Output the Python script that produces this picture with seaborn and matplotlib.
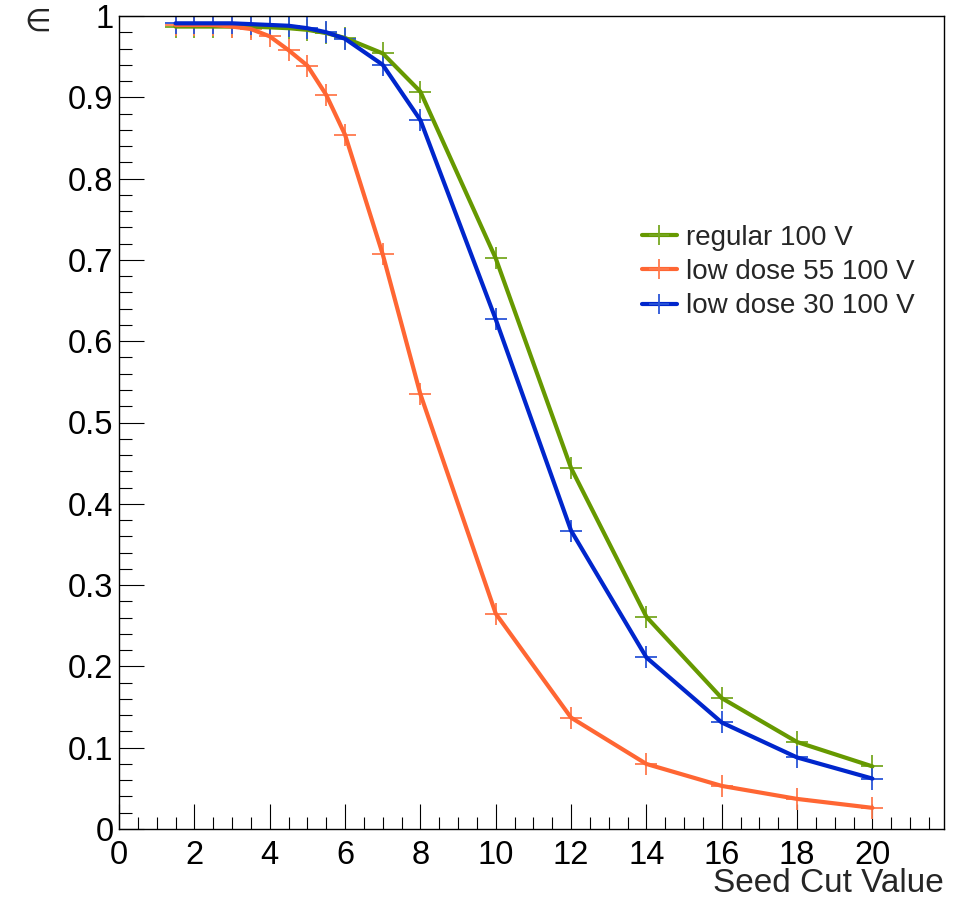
import matplotlib
matplotlib.use("Agg")
import matplotlib.pyplot as plt
from matplotlib.lines import Line2D
from matplotlib.ticker import MultipleLocator
import seaborn as sns
import pandas as pd

seed_cut = [1.5, 2, 2.5, 3, 3.5, 4, 4.5, 5, 5.5, 6, 7, 8, 10, 12, 14, 16, 18, 20]
eff_regular = [0.987, 0.987, 0.987, 0.987, 0.987, 0.986, 0.985, 0.983, 0.979, 0.973,
               0.954, 0.907, 0.702, 0.444, 0.261, 0.161, 0.107, 0.077]
eff_low55 = [0.989, 0.989, 0.989, 0.987, 0.984, 0.975, 0.958, 0.939, 0.903, 0.854,
             0.707, 0.535, 0.265, 0.137, 0.080, 0.053, 0.037, 0.026]
eff_low30 = [0.991, 0.991, 0.991, 0.991, 0.990, 0.989, 0.988, 0.985, 0.980, 0.972,
             0.940, 0.872, 0.627, 0.367, 0.211, 0.131, 0.088, 0.062]

series_names = ["regular 100 V", "low dose 55 100 V", "low dose 30 100 V"]
series_values = [eff_regular, eff_low55, eff_low30]
line_colors = ["#669900", "#ff6633", "#0026cc"]
marker_colors = ["#77a822", "#ff7a4d", "#2a55d8"]

sns.set_style("white")
plt.rcParams["font.family"] = ["Liberation Sans", "DejaVu Sans"]

fig = plt.figure(figsize=(9.65, 9.02), dpi=100)
L, R, T, B = 119, 944, 16, 829
W, H = 965, 902
ax = fig.add_axes([L / W, 1 - B / H, (R - L) / W, (B - T) / H])

for name, vals, lc, mc in zip(series_names, series_values, line_colors, marker_colors):
    df = pd.DataFrame({"x": seed_cut, "y": vals})
    sns.scatterplot(data=df, x="x", y="y", ax=ax, marker="+", s=16 ** 2,
                    color=mc, linewidth=1.3, zorder=2, legend=False)
    sns.lineplot(data=df, x="x", y="y", ax=ax, color=lc, linewidth=3.0,
                 estimator=None, sort=False, zorder=3, legend=False)

ax.set_xlim(0, 21.9)
ax.set_ylim(0, 1)
ax.set_xticks(range(0, 21, 2))
ax.set_xticklabels([str(v) for v in range(0, 21, 2)])
ax.xaxis.set_minor_locator(MultipleLocator(0.5))
yt = [round(0.1 * i, 1) for i in range(11)]
ax.set_yticks(yt)
ax.set_yticklabels(["0" if v == 0 else ("1" if v == 1 else f"{v:g}") for v in yt])
ax.yaxis.set_minor_locator(MultipleLocator(0.02))

ax.tick_params(axis="both", which="both", direction="in", top=False, right=False,
               bottom=True, left=True, colors="black", width=0.8)
ax.tick_params(axis="both", which="major", length=18, labelsize=23.5)
ax.tick_params(axis="both", which="minor", length=9)
ax.tick_params(axis="x", which="major", pad=8)
ax.tick_params(axis="y", which="major", pad=4)
for sp in ax.spines.values():
    sp.set_visible(True)
    sp.set_color("black")
    sp.set_linewidth(1.0)
ax.set_xlabel("")
ax.set_ylabel("")

fig.text(944 / W, 1 - 884 / H, "Seed Cut Value", ha="right", va="center", fontsize=24)
fig.text(38 / W, 1 - 22 / H, "∈", ha="center", va="center", fontsize=22,
         family=["DejaVu Sans"])

handles = [Line2D([0], [0], color=lc, lw=3.0, marker="+", markersize=15,
                  markeredgewidth=1.3, markeredgecolor=mc)
           for lc, mc in zip(line_colors, marker_colors)]
fig.legend(handles, series_names, loc="center left",
           bbox_to_anchor=(642 / W, 1 - 272 / H), bbox_transform=fig.transFigure,
           frameon=False, fontsize=20, handlelength=1.25, handletextpad=0.35,
           labelspacing=0.3, borderpad=0, borderaxespad=0)

fig.savefig("out.png", dpi=100)
